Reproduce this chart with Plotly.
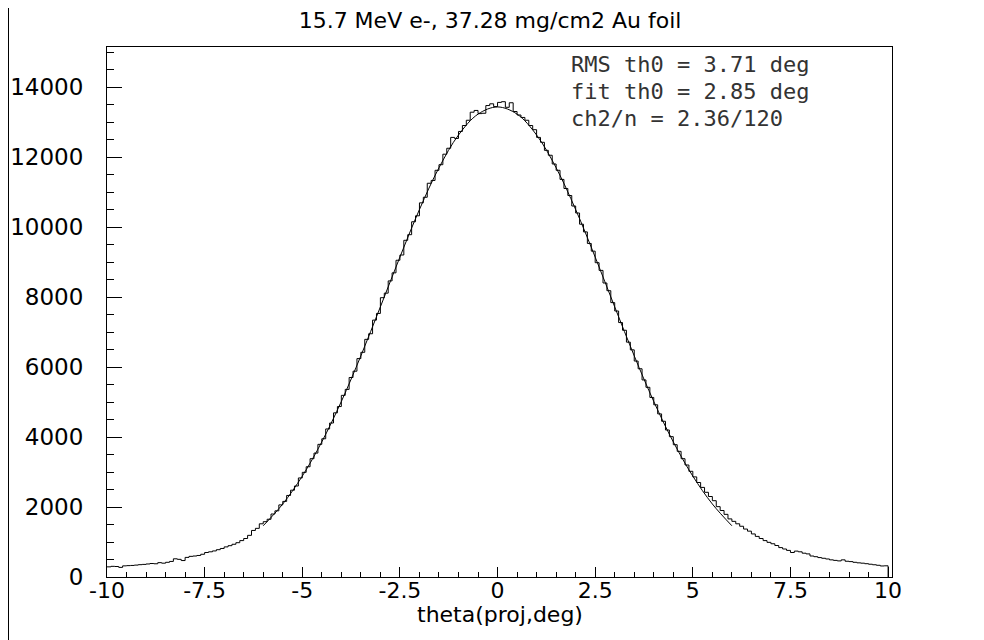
import plotly.graph_objects as go

# ---------------- data ----------------
BIN_LO = -10.0
BIN_WIDTH = 0.1

COUNTS_LEFT_TAIL = [
    290, 305, 300, 275, 318, 325, 330, 340, 352, 360,
    372, 385, 378, 410, 395, 420, 445, 520, 505, 470,
    560, 590, 600, 615, 650, 700, 720, 745, 780, 815,
    860, 895, 935, 980, 1040, 1100, 1190, 1330, 1390, 1520,
]
COUNTS_LEFT_CORE = [
    1580, 1650, 1800, 1890, 2060, 2160, 2330, 2480, 2600, 2830,
    2990, 3150, 3380, 3540, 3790, 3950, 4230, 4400, 4690, 4870,
    5190, 5360, 5700, 5880, 6240, 6420, 6790, 6950, 7340, 7530,
    7980, 8110, 8460, 8690, 9050, 9200, 9620, 9780, 10150, 10320,
    10690, 10850, 11250, 11330, 11620, 11780, 12080, 12250, 12560, 12530,
    12730, 12900, 13050, 13280, 13330, 13240, 13250, 13470, 13520, 13440,
]
COUNTS_RIGHT_CORE = [
    13560, 13580, 13420, 13550, 13300, 13200, 13130, 13050, 12900, 12780,
    12560, 12420, 12190, 12050, 11800, 11620, 11360, 11100, 10900, 10600,
    10400, 10080, 9860, 9530, 9310, 8980, 8760, 8400, 8180, 7840,
    7600, 7270, 7050, 6710, 6490, 6170, 5950, 5630, 5420, 5130,
    4920, 4660, 4450, 4200, 4010, 3780, 3590, 3380, 3200, 3020,
    2860, 2700, 2560, 2420, 2300, 2180, 2010, 1900, 1790, 1660,
]
COUNTS_RIGHT_TAIL = [
    1590, 1520, 1450, 1370, 1310, 1230, 1160, 1100, 1040, 990,
    950, 900, 840, 800, 760, 700, 740, 720, 680, 660,
    600, 580, 555, 535, 515, 490, 475, 460, 490, 450,
    440, 420, 405, 395, 380, 365, 350, 335, 315, 320,
]

FIT_X = [-6.0, -5.5, -5.0, -4.5, -4.0, -3.5, -3.0, -2.5, -2.0, -1.5, -1.0, -0.5, 0.0,
         0.5, 1.0, 1.5, 2.0, 2.5, 3.0, 3.5, 4.0, 4.5, 5.0, 5.5, 6.0]
FIT_Y = [1464, 2086, 2882, 3861, 5015, 6318, 7718, 9141, 10499, 11693, 12628, 13225, 13430,
         13225, 12628, 11693, 10499, 9141, 7718, 6318, 5015, 3861, 2882, 2086, 1464]

TITLE = "15.7 MeV e-, 37.28 mg/cm2 Au foil"
X_TITLE = "theta(proj,deg)"
STAT_LINES = ["RMS th0 = 3.71 deg", "fit th0 = 2.85 deg", "ch2/n = 2.36/120"]
X_TICKS = [-10, -7.5, -5, -2.5, 0, 2.5, 5, 7.5, 10]
X_TICK_TEXT = ["-10", "-7.5", "-5", "-2.5", "0", "2.5", "5", "7.5", "10"]
Y_TICKS = [0, 2000, 4000, 6000, 8000, 10000, 12000, 14000]
Y_TICK_TEXT = ["0", "2000", "4000", "6000", "8000", "10000", "12000", "14000"]

# ---------------- build ----------------
counts = COUNTS_LEFT_TAIL + COUNTS_LEFT_CORE + COUNTS_RIGHT_CORE + COUNTS_RIGHT_TAIL
edges = [round(BIN_LO + i * BIN_WIDTH, 4) for i in range(len(counts) + 1)]
step_x = edges + [edges[-1]]
step_y = counts + [counts[-1], 0]

# page body has an 8px margin, so the figure is sized to fill the rest
W, H = 976, 632
ML, MR, MT, MB = 99, 92, 39, 63
pw = W - ML - MR
ph = H - MT - MB

fig = go.Figure()
fig.add_trace(go.Scatter(x=step_x, y=step_y, mode="lines", line_shape="hv",
                         line=dict(color="black", width=1), hoverinfo="skip",
                         showlegend=False))
fig.add_trace(go.Scatter(x=FIT_X, y=FIT_Y, mode="lines", line_shape="spline",
                         line=dict(color="black", width=1), hoverinfo="skip",
                         showlegend=False))

font_main = "DejaVu Sans"
fig.update_layout(
    width=W, height=H,
    margin=dict(l=ML, r=MR, t=MT, b=MB, pad=0, autoexpand=False),
    paper_bgcolor="white", plot_bgcolor="white",
    title=dict(text=TITLE, x=482 / W, xanchor="center", y=1 - 12 / H, yanchor="middle",
               font=dict(family=font_main, size=22, color="black")),
    xaxis=dict(range=[-10, 10.1], tickmode="array", tickvals=X_TICKS, ticktext=X_TICK_TEXT,
               ticks="inside", ticklen=10, tickwidth=1, tickcolor="black",
               showline=True, linecolor="black", linewidth=1, mirror=True,
               showgrid=False, zeroline=False, ticklabelstandoff=-6,
               tickfont=dict(family=font_main, size=22, color="black"),
               minor=dict(dtick=0.5, tick0=0, ticks="inside", ticklen=5, tickcolor="black", showgrid=False)),
    yaxis=dict(range=[0, 15143], tickmode="array", tickvals=Y_TICKS, ticktext=Y_TICK_TEXT,
               ticks="inside", ticklen=15, tickwidth=1, tickcolor="black",
               showline=True, linecolor="black", linewidth=1, mirror=True,
               showgrid=False, zeroline=False, ticklabelstandoff=18,
               tickfont=dict(family=font_main, size=23, color="black"),
               minor=dict(dtick=500, tick0=0, ticks="inside", ticklen=7, tickcolor="black", showgrid=False)),
)

# x-axis title placed just below the tick labels
fig.add_annotation(x=0.5, y=-(606 - (MT + ph)) / ph, xref="paper", yref="paper",
                   text=X_TITLE, showarrow=False, xanchor="center", yanchor="middle",
                   font=dict(family=font_main, size=22, color="black"))

# stats text
stat_y = [14637, 13866, 13094]
for line, yv in zip(STAT_LINES, stat_y):
    fig.add_annotation(x=1.82, y=yv, xref="x", yref="y", text=line, showarrow=False,
                       xanchor="left", yanchor="middle",
                       font=dict(family="DejaVu Sans Mono", size=22, color="#333333"))

# left canvas border line
fig.add_shape(type="line", xref="paper", yref="paper",
              x0=(0.5 - ML) / pw, x1=(0.5 - ML) / pw,
              y0=-MB / ph, y1=(ph + MT) / ph,
              line=dict(color="black", width=1))

fig.write_html("out.html")
